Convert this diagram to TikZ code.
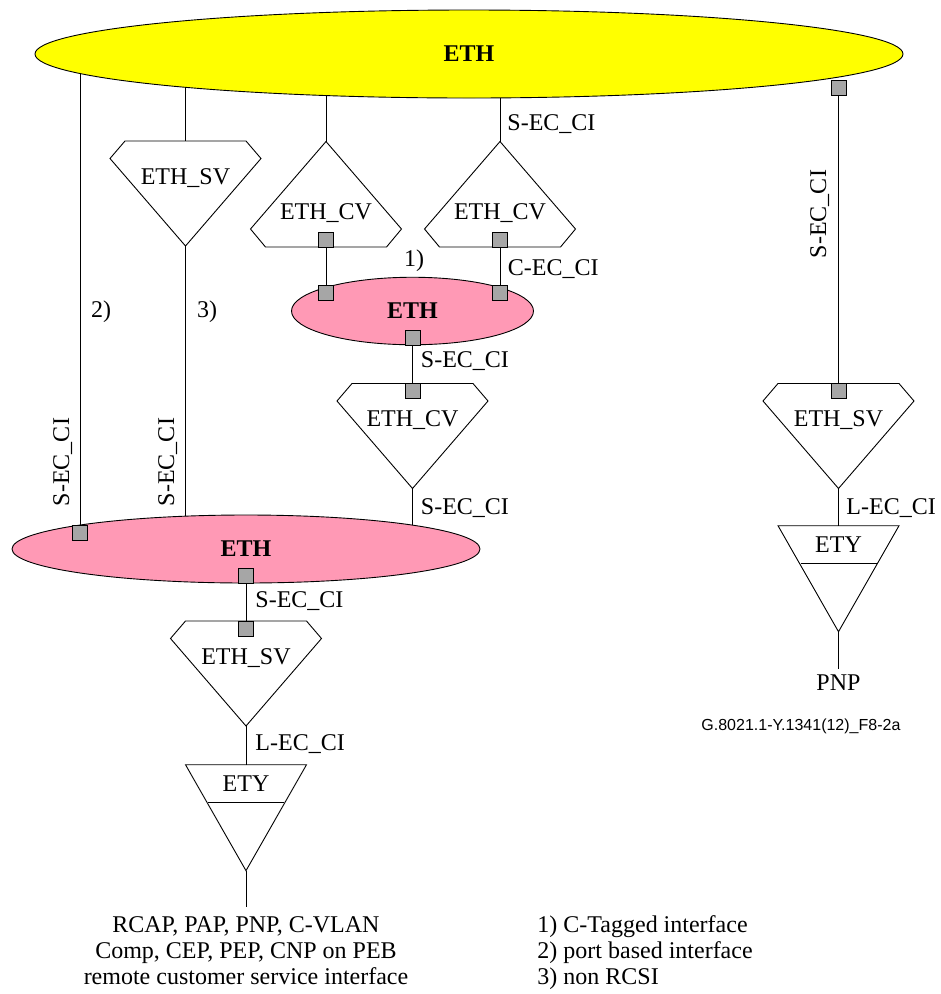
\documentclass[tikz,border=0pt]{standalone}
\usepackage{fontspec}
\setmainfont{Liberation Serif}
\newfontfamily\captionfont{Liberation Sans}
\usetikzlibrary{shapes.geometric,backgrounds}
\definecolor{ethyellow}{HTML}{FFFF00}
\definecolor{ethpink}{HTML}{FF99B5}
\definecolor{portgray}{HTML}{A6A6A6}
\begin{document}
\begin{tikzpicture}[x=1pt, y=-1pt,
                    line width=0.9pt,
                    every node/.style={font=\fontsize{24}{26}\selectfont, inner sep=0pt},
                    layer/.style={ellipse, draw, font=\fontsize{24}{26}\selectfont\bfseries},
                    port/.style={rectangle, draw, fill=portgray, minimum size=15pt},
                    ci/.style={anchor=base west},
                    civ/.style={anchor=base, rotate=90},
                    pentdown/.pic={
                      \draw (-60.5,0) -- (60.5,0) -- (75.5,17.5) -- (0,105) -- (-75.5,17.5) -- cycle;
                      \coordinate (-top) at (0,0);
                      \coordinate (-apex) at (0,105);
                      \node[anchor=base] (-label) at (0,43) {#1};
                    },
                    pentup/.pic={
                      \draw (0,0) -- (75.5,87.5) -- (60.5,105.5) -- (-60.5,105.5) -- (-75.5,87.5) -- cycle;
                      \coordinate (-apex) at (0,0);
                      \node[anchor=base] (-label) at (0,77.5) {#1};
                    },
                    ety/.pic={
                      \draw (-60.5,0) -- (60.5,0) -- (0,106) -- cycle;
                      \draw (-38,38) -- (38,38);
                      \coordinate (-top) at (0,0);
                      \coordinate (-apex) at (0,106);
                      \node[anchor=base] (-label) at (0,26.5) {ETY};
                    }]
    \useasboundingbox (0,0) rectangle (941,994);
    \node[layer, fill=ethyellow, minimum width=868pt, minimum height=88pt] (ethtop) at (469,54) {ETH};
    \node[layer, fill=ethpink, minimum width=242pt, minimum height=67.5pt] (ethc) at (412.5,311) {ETH};
    \node[layer, fill=ethpink, minimum width=468pt, minimum height=68pt] (ethb) at (246,549) {ETH};

    \pic (svl) at (185.5,141) {pentdown=ETH\_SV};
    \pic (cva) at (326,141.5) {pentup=ETH\_CV};
    \pic (cvb) at (500,141.5) {pentup=ETH\_CV};
    \pic (cvc) at (412.5,383.5) {pentdown=ETH\_CV};
    \pic (svb) at (246,621) {pentdown=ETH\_SV};
    \pic (svr) at (838.5,383.5) {pentdown=ETH\_SV};
    \pic (etyb) at (246,764.7) {ety};
    \pic (etyr) at (838.5,525.7) {ety};

    \node[port] (pcva) at (326,239.5) {};
    \node[port] (pcvb) at (500,239.5) {};
    \node[port] (pca) at (326,293) {};
    \node[port] (pcb) at (500,293) {};
    \node[port] (pcc) at (412.5,338) {};
    \node[port] (pcvc) at (412.5,391) {};
    \node[port] (pbl) at (80,533) {};
    \node[port] (pbb) at (246,575.5) {};
    \node[port] (psvb) at (246,628.5) {};
    \node[port] (ptop) at (838.5,88) {};
    \node[port] (psvr) at (838.5,391) {};

    \coordinate (tailb) at (246,907);
    \coordinate (tailr) at (838.5,669);

    \begin{scope}[on background layer]
      \draw (ethtop.center -| pbl) -- (pbl);
      \draw (ethtop.center -| svl-top) -- (svl-top);
      \draw (svl-apex) -- (ethb.center -| svl-apex);
      \draw (ethtop.center -| cva-apex) -- (cva-apex);
      \draw (ethtop.center -| cvb-apex) -- (cvb-apex);
      \draw (pcva) -- (pca);
      \draw (pcvb) -- (pcb);
      \draw (pcc) -- (pcvc);
      \draw (cvc-apex) -- (ethb.center -| cvc-apex);
      \draw (pbb) -- (psvb);
      \draw (svb-apex) -- (etyb-top);
      \draw (etyb-apex) -- (tailb);
      \draw (ptop) -- (psvr);
      \draw (svr-apex) -- (etyr-top);
      \draw (etyr-apex) -- (tailr);
    \end{scope}

    \node[ci] (cia) at (507,130.7) {S-EC\_CI};
    \node[ci] (cib) at (507.5,275) {C-EC\_CI};
    \node[ci] (cic) at (420.5,367.7) {S-EC\_CI};
    \node[ci] (cid) at (420.5,514) {S-EC\_CI};
    \node[ci] (cie) at (255,607.7) {S-EC\_CI};
    \node[ci] (cif) at (255,750.7) {L-EC\_CI};
    \node[ci] (cig) at (846,514) {L-EC\_CI};
    \node[civ] (cih) at (826,214) {S-EC\_CI};
    \node[civ] (cii) at (69,462) {S-EC\_CI};
    \node[civ] (cij) at (174,462) {S-EC\_CI};

    \node[anchor=base] (noteone) at (414,266.7) {1)};
    \node[anchor=base] (notetwo) at (101,317) {2)};
    \node[anchor=base] (notethree) at (207,317) {3)};

    \node[anchor=base] (pnp) at (838.5,690.7) {PNP};
    \node[anchor=base west, font=\captionfont\fontsize{16}{18}\selectfont] (figid) at (701,730) {G.8021.1-Y.1341(12)\_F8-2a};

    \node[anchor=base] (inta) at (246,932) {RCAP, PAP, PNP, C-VLAN};
    \node[anchor=base] (intb) at (246,958) {Comp, CEP, PEP, CNP on PEB};
    \node[anchor=base] (intc) at (246,984) {remote customer service interface};
    \node[anchor=base west] (keya) at (537,932) {1) C-Tagged interface};
    \node[anchor=base west] (keyb) at (537,958) {2) port based interface};
    \node[anchor=base west] (keyc) at (537,984) {3) non RCSI};
\end{tikzpicture}
\end{document}
